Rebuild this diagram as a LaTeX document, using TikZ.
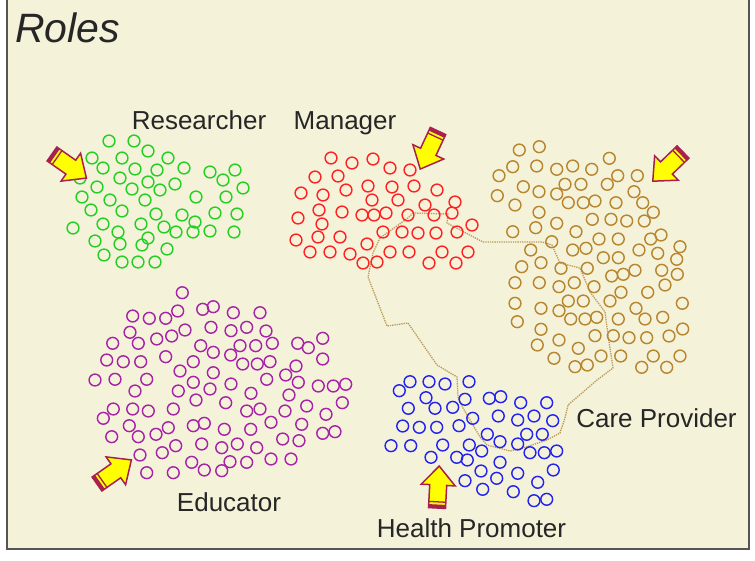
\documentclass[tikz,border=0pt]{standalone}
\usepackage{fontspec}
\setmainfont{Liberation Sans}
\definecolor{bg}{HTML}{F5F2DA}
\definecolor{framec}{HTML}{555555}
\definecolor{txt}{HTML}{262626}
\definecolor{cgreen}{HTML}{22D022}
\definecolor{cred}{HTML}{FF2222}
\definecolor{ctan}{HTML}{B8862E}
\definecolor{cpurple}{HTML}{A624A6}
\definecolor{cblue}{HTML}{2424F0}
\definecolor{pathc}{HTML}{BA9A58}
\definecolor{arrfill}{HTML}{FFFF00}
\definecolor{arrline}{HTML}{A82050}
\tikzset{
  dotc/.style={line width=1.45pt},
  lbl/.style={text=txt, font=\fontsize{26}{30}\selectfont, anchor=base, inner sep=0pt},
  pics/blockarrow/.style={code={
    \filldraw[fill=arrfill, draw=arrline, line width=1.5pt, line join=miter]
      (0,-8.5) -- (23,-8.5) -- (23,-17) -- (42,0) -- (23,17) -- (23,8.5) -- (0,8.5) -- cycle;
    \fill[arrline] (0,-8.5) rectangle (3.5,8.5);
    \draw[arrline, line width=1.3pt] (6.2,-8.5) -- (6.2,8.5);
  }}
}
\begin{document}
\begin{tikzpicture}[x=1pt,y=-1pt]
\useasboundingbox (0,0) rectangle (755,560);
\fill[white] (0,0) rectangle (755,560);
\fill[bg] (7,0) rectangle (749,549);
\draw[framec, line width=1.5pt] (7,0) -- (7,549) -- (749,549) -- (749,0);

\node[text=txt, font=\fontsize{41}{46}\selectfont\itshape, anchor=base west, inner sep=0pt] (title) at (15,42) {Roles};

% dotted boundary
\draw[pathc, line width=1.3pt, densely dotted]
  (413,213) -- (408,218) -- (380,238) -- (373,253) -- (368,277) -- (387,326) -- (408,323)
  -- (437,365) -- (457,377) -- (458,397) -- (463,408) -- (480,437) -- (487,445) -- (510,451)
  -- (523,448) -- (547,440) -- (560,433) -- (565,418) -- (568,405) -- (597,380) -- (613,368)
  -- (608,335) -- (605,312) -- (590,292) -- (580,268) -- (560,263) -- (552,245) -- (542,242)
  -- (483,242) -- (447,223) -- (448,214) -- cycle;

% Researcher (green)
\foreach \x/\y in {109/141,134/141,148/151,92/158,122/158,168/158,103/168,135/169,157/170,184/168,210/172,235/170,
  80/178,120/178,148/182,175/184,223/180,97/187,132/189,160/190,196/197,243/188,82/197,110/200,145/200,226/197,
  91/210,122/211,156/214,182/215,215/213,237/214,103/224,141/224,164/227,195/222,118/232,148/238,176/232,210/231,
  234/232,73/228,95/241,120/244,142/245,167/249,193/232,104/255,122/262,138/262,155/262}
  \draw[cgreen, dotc] (\x,\y) circle[radius=5.9];

% Manager (red)
\foreach \x/\y in {331/158,352/163,373/159,315/177,338/176,390/168,410/170,301/193,323/195,346/190,368/186,392/187,
  414/186,437/190,455/202,319/210,298/218,342/212,322/224,
  372/200,398/200,425/205,362/215,374/215,386/213,408/215,434/215,452/213,472/225,383/232,402/232,418/233,436/233,457/232,
  367/244,390/252,409/252,442/252,468/252,363/263,377/262,429/263,456/263,296/240,318/237,340/237,310/252,330/252,350/254}
  \draw[cred, dotc] (\x,\y) circle[radius=5.9];

% Care Provider (tan)
\foreach \x/\y in {519.3/150,539.3/146.7,512.7/166.7,536.7/166,556.7/169.3,572.7/166,591.7/169.3,609.3/158.3,499/175.7,
  523.3/186.7,539/191.7,565/184.3,581/184.3,607.3/184.3,617.7/175.7,637.3/175.7,497.3/195.7,515/205,556.7/194,
  568.3/202.7,583.3/202.7,595/201,616/202.7,634/191.7,642.7/202.7,653.3/212.3,539/212.3,556.7/223.3,592.3/219.3,
  611/219.3,626.7/221,644.3/221,512.7/231.7,535.7/227.7,576/231.7,551.7/241.7,599/239,618.3/239,650.7/239,661/235,
  680/246.7,530.7/250,572.7/250,586/248.3,603.3/257.7,618.3/257.7,639/250,657.7/253.3,676.7/259.3,521.7/266.7,
  541/262.7,561/268.3,587.3/268.3,611.7/276,623.3/274.3,635/270.3,661.7/270.3,677.3/274.3,515/282.7,539.3/282.7,
  559/286.7,574.3/282.7,594/286.7,621/292.3,647.7/292.3,665/285,515/303.3,541/308.3,559/310.7,568.3/301,583.3/301,
  610/301,636/308.3,682.3/303.3,517.3/321.7,570.7/319,585/319,596.7/317.3,618.3/319,645/319,662.7/317.3,541/329.3,
  559/340,595/335.7,613.3/335.7,629/337.7,646.7/337.7,669/336,682.7/329,537.3/345,578.3/348.3,601/356,620.7/356,
  653.3/356,680/356,554/358.3,575/366.7,587.3/365,641.7/367.3,666.7/367.3}
  \draw[ctan, dotc] (\x,\y) circle[radius=5.9];

% Educator (purple)
\foreach \x/\y in {182.3/292.7,132.7/316,149.3/318.3,165.7/318.3,177.7/311,202.7/309.3,213.3/306.7,233.3/312.7,260/312.7,
  130/332.3,138.3/343.3,112.7/343.3,156.7/339,171.7/336,185/330,211/327.3,231/330.7,246.7/327.3,266/331,106.7/360,
  123.3/361.7,140.7/361.7,165.7/356.7,200.7/345.7,213.3/352.3,230.7/355,240/345.7,255.7/345.7,272.3/343.3,297.7/343.3,
  308.3/347.7,322.7/338.3,322.7/359,193.3/361.7,242.7/364,257.3/364,270/361.7,296/366,95/380,115/379.3,146.7/379.3,
  180/371,213.3/372.7,193.3/382.3,231/384,266.7/379.3,285.7/375,298.3/382.3,318.3/386,333.3/386,345.7/384.3,135/391,
  178.3/391,210/389,251/393.3,196/400,225.7/402.7,289/395,113.3/409,132.7/409,148.3/411,173.3/409,246.7/411,260/409,
  285/411,306.7/406,342.3/402.7,103.3/418.3,129.3/425.7,168.3/427.7,193.3/425.7,204.3/423.3,224.3/429.3,250.7/429.3,
  271/422.3,301.7/424.3,326/414.3,111.7/436.7,138.3/436.7,156/434.3,322.7/433.3,335/431.7,282.7/439,299/440.7,
  175.7/445.7,201.7/444,221.7/447.7,237.3/444,256.7/447.7,140/455,162.3/452.7,191.7/462.3,204.3/470,221.7/470.7,
  230/461.7,246.7/462.3,271/459,291/459,146.7/472.7,173.3/472.7}
  \draw[cpurple, dotc] (\x,\y) circle[radius=5.9];

% Health Promoter (blue)
\foreach \x/\y in {410/381.7,429/381.7,445/384,469/381.7,399.3/390.7,426/397.7,465/399.3,489.3/398.3,500.7/396.7,
  520.7/402.7,546.7/402.7,408.3/408.3,435/408.3,452.7/407.3,472.7/418.3,498.3/416,517.7/420,534/416,552.7/420.7,
  402.7/426,419.3/427.3,436.7/427.3,459/425.7,487.3/434.3,526.7/434.3,542.3/434.3,391/445.7,410.7/445.7,442.7/445,
  469.3/445,481.7/451,500/441.7,517.7/444,530/452.7,544.3/452.7,556.7/451,431/457.3,456.7/457.3,467.3/460,500/462.3,
  481/471,517.7/473.3,553.3/470,465/480.7,496.7/478.3,537.7/482.3,482.7/489.3,513.3/491.7,534/500.7,546.7/499.3}
  \draw[cblue, dotc] (\x,\y) circle[radius=5.9];

% arrows
\pic[rotate=-35] (arrR) at (52,154) {blockarrow};
\pic[rotate=-115] (arrM) at (438,131) {blockarrow};
\pic[rotate=-136] (arrC) at (683,152) {blockarrow};
\pic[rotate=35] (arrE) at (97,484) {blockarrow};
\pic[rotate=87] (arrH) at (437,508) {blockarrow};

% labels
\node[lbl] (researcher) at (199,129) {Researcher};
\node[lbl] (manager) at (345,129) {Manager};
\node[lbl] (educator) at (229,511) {Educator};
\node[lbl] (care) at (656.5,427) {Care Provider};
\node[lbl] (health) at (471.5,537) {Health Promoter};
\end{tikzpicture}
\end{document}
